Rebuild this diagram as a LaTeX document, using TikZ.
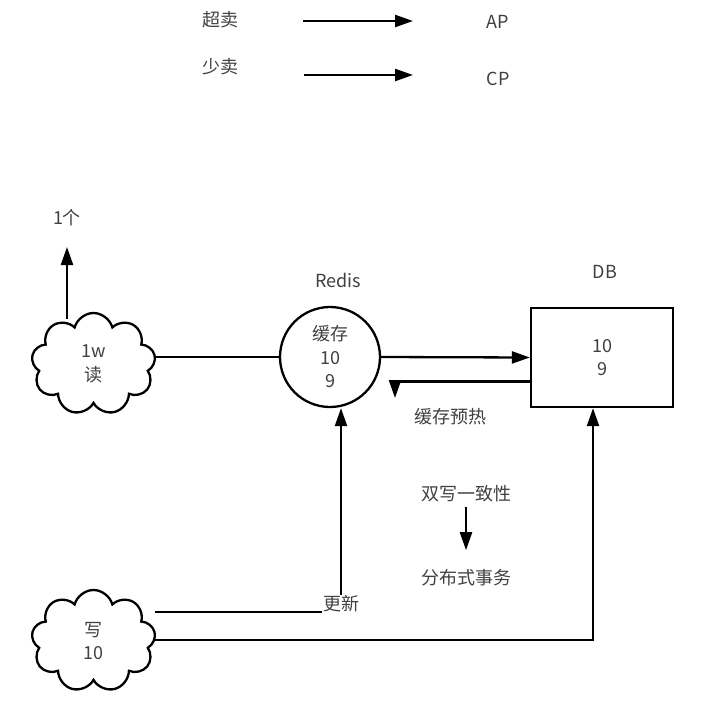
\documentclass[tikz,border=0pt]{standalone}
\usepackage{fontspec}
\setmainfont{Noto Sans CJK SC}
\usetikzlibrary{arrows.meta,shapes.symbols}

\begin{document}
\begin{tikzpicture}[x=1pt, y=-1pt, line width=2.3pt,
  every node/.style={text=black!75, font=\fontsize{18}{23.5}\selectfont, align=center},
  arr/.style={-{Triangle[length=18pt,width=12pt]}},
  cloudbox/.style={cloud, draw, cloud puffs=9, cloud puff arc=150, minimum width=124pt, minimum height=102pt, inner sep=0pt}]

\useasboundingbox (0,0) rectangle (703,718);

% legend
\node (oversell) at (220,20) {超卖};
\node (ap) at (498,22) {AP};
\node (undersell) at (220,67) {少卖};
\node (cp) at (498,79) {CP};
\coordinate (s1) at (303,21);
\coordinate (e1) at (413,21);
\coordinate (s2) at (304,75);
\coordinate (e2) at (413,75);
\draw[arr] (s1) -- (e1);
\draw[arr] (s2) -- (e2);

% read side
\node[cloudbox] (read) at (93.5,364) {1w\\读};
\node (one) at (67,218) {1个};
\coordinate (rtop) at (67,319);
\coordinate (rup) at (67,247);
\draw[arr] (rtop) -- (rup);

\node[circle, draw, minimum size=100pt, inner sep=0pt] (redis) at (330,357) {缓存\\10\\9};
\node (redislabel) at (338,280) {Redis};
\node[draw, minimum width=142pt, minimum height=99pt] (db) at (602,357.5) {10\\9};
\node (dblabel) at (605,272) {DB};

\draw (read.east |- redis.west) -- (redis.west);
\draw[arr] (redis.east) -- (db.west);
\coordinate (warm) at (395,398);
\draw[arr] ([yshift=-24pt]db.west) -| (warm);
\node (warmtxt) at (450,417) {缓存预热};

% write side
\node[cloudbox] (write) at (93.5,641) {写\\10};
\draw[arr] ([yshift=29pt]write.east) -| node[pos=0.5, fill=white, inner sep=1pt, yshift=8pt] (update) {更新} ([xshift=11pt]redis.south);
\draw[arr] ([yshift=1pt]write.east) -| ([xshift=-9pt]db.south);

\node (dual) at (466,494) {双写一致性};
\node (dist) at (466,578) {分布式事务};
\draw[arr, shorten >=15pt] (dual) -- (dist);

\end{tikzpicture}
\end{document}
